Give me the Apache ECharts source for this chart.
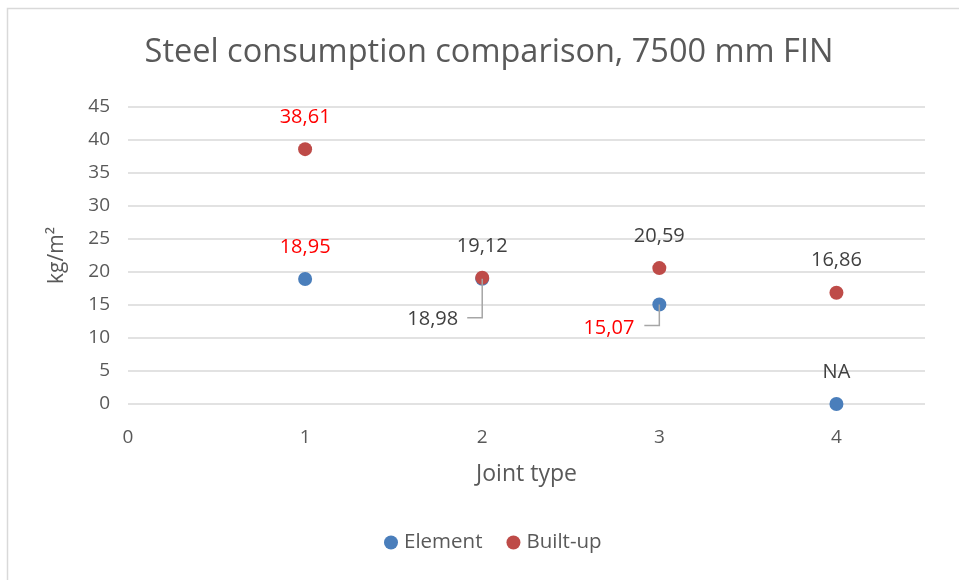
<!DOCTYPE html>
<html>
<head>
<meta charset="utf-8">
<script src="https://cdn.jsdelivr.net/npm/echarts@6/dist/echarts.min.js"></script>
<style>
  html, body { margin: 0; padding: 0; background: #fff; }
  #chart { width: 959px; height: 580px; }
</style>
</head>
<body>
<div id="chart"></div>
<script>
// joint types on x axis
var jointTypes = [1, 2, 3, 4];
// kg/m2 values
var elementValues = [18.95, 18.98, 15.07, 0];
var builtUpValues = [38.61, 19.12, 20.59, 16.86];
// Element at joint type 4 does not exist
var elementMissing = [false, false, false, true];

var FONT = 'Open Sans';
var GREY = '#595959';
var DARK = '#404040';
var RED = '#ff0000';

// label styling per point (which labels are red, which ones are moved with a leader)
var elementRed = [true, false, true, false];
var builtUpRed = [true, false, false, false];
var elementMoved = {1: {offset: [-2, 41], drop: 39}, 2: {offset: [-3, 24], drop: 21}};

function fmt(v) {
  return v.toFixed(2).replace('.', ',');
}

var myChart = echarts.init(document.getElementById('chart'));

var elementData = jointTypes.map(function (x, i) {
  var item = {value: [x, elementValues[i]], label: {color: elementRed[i] ? RED : DARK}};
  if (elementMoved[i]) {
    item.label.position = 'left';
    item.label.offset = elementMoved[i].offset;
  }
  return item;
});
var builtUpData = jointTypes.map(function (x, i) {
  return {value: [x, builtUpValues[i]], label: {color: builtUpRed[i] ? RED : DARK}};
});
var leaderData = [];
Object.keys(elementMoved).forEach(function (k) {
  leaderData.push([jointTypes[k], elementValues[k], elementMoved[k].drop]);
});

var option = {
  animation: false,
  backgroundColor: '#fff',
  textStyle: {fontFamily: FONT},
  title: {
    text: 'Steel consumption comparison, 7500 mm FIN',
    left: 484,
    textAlign: 'center',
    top: 31,
    textStyle: {fontFamily: FONT, fontSize: 32.5, fontWeight: 'normal', color: GREY}
  },
  legend: {
    bottom: 22,
    left: 379,
    icon: 'circle',
    itemWidth: 14,
    itemHeight: 14,
    itemGap: 24,
    data: ['Element', 'Built-up'],
    textStyle: {fontFamily: FONT, fontSize: 20.5, color: GREY, padding: [0, 0, 0, 1]}
  },
  grid: {left: 128, right: 34, top: 107, bottom: 176, containLabel: false},
  xAxis: {
    type: 'value',
    min: 0,
    max: 4.5,
    interval: 1,
    name: 'Joint type',
    nameLocation: 'middle',
    nameGap: 59,
    nameTextStyle: {fontFamily: FONT, fontSize: 23, color: GREY},
    axisLine: {show: false},
    axisTick: {show: false},
    splitLine: {show: false},
    axisLabel: {fontFamily: FONT, fontSize: 19, color: GREY, margin: 24, showMaxLabel: false}
  },
  yAxis: {
    type: 'value',
    min: 0,
    max: 45,
    interval: 5,
    name: 'kg/m²',
    nameLocation: 'middle',
    nameGap: 60,
    nameTextStyle: {fontFamily: FONT, fontSize: 21, color: GREY},
    axisLine: {show: false},
    axisTick: {show: false},
    splitLine: {lineStyle: {color: '#d9d9d9', width: 1.5}},
    axisLabel: {fontFamily: FONT, fontSize: 19, color: GREY, margin: 18}
  },
  graphic: [{
    type: 'rect',
    shape: {x: 7.5, y: 8.5, width: 1000, height: 1000},
    style: {fill: 'none', stroke: '#d9d9d9', lineWidth: 1.5},
    silent: true
  }],
  series: [
    {
      name: 'Element',
      type: 'scatter',
      symbolSize: 14,
      itemStyle: {color: '#4a7ebb', opacity: 1},
      label: {
        show: true,
        position: 'top',
        distance: 15,
        fontFamily: FONT,
        fontSize: 20,
        formatter: function (p) {
          return elementMissing[p.dataIndex] ? 'NA' : fmt(p.value[1]);
        }
      },
      data: elementData,
      z: 2
    },
    {
      name: 'Built-up',
      type: 'scatter',
      symbolSize: 14,
      itemStyle: {color: '#be4b48', opacity: 1},
      label: {
        show: true,
        position: 'top',
        distance: 15,
        fontFamily: FONT,
        fontSize: 20,
        formatter: function (p) {
          return fmt(p.value[1]);
        }
      },
      data: builtUpData,
      z: 3
    },
    {
      // leader lines for the moved Element labels
      name: 'leaders',
      type: 'custom',
      silent: true,
      z: 4,
      renderItem: function (params, api) {
        var p = api.coord([api.value(0), api.value(1)]);
        var drop = api.value(2);
        return {
          type: 'polyline',
          shape: {points: [[p[0], p[1]], [p[0], p[1] + drop], [p[0] - 15, p[1] + drop]]},
          style: {stroke: '#a6a6a6', lineWidth: 1.5, fill: 'none'}
        };
      },
      data: leaderData
    }
  ]
};

myChart.setOption(option);
</script>
</body>
</html>
